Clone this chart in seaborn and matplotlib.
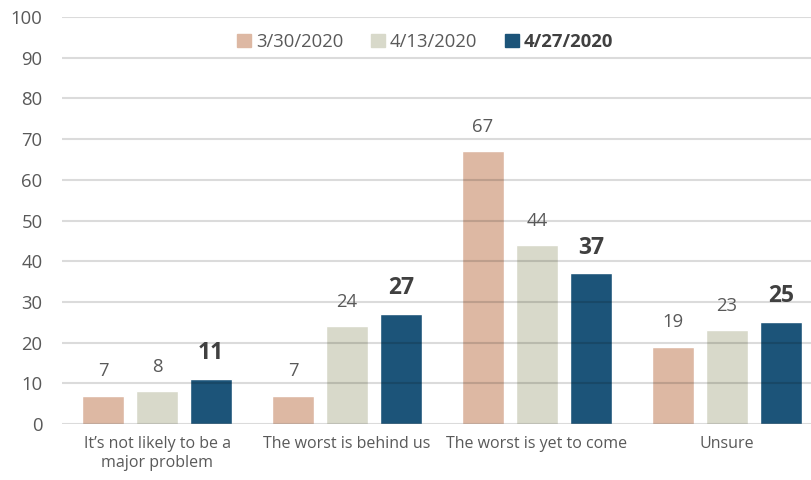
import pandas as pd
import matplotlib.pyplot as plt
import matplotlib.patches as mpatches
import seaborn as sns

# dati
categories = ["It’s not likely to be a\nmajor problem", "The worst is behind us",
              "The worst is yet to come", "Unsure"]
dates = ["3/30/2020", "4/13/2020", "4/27/2020"]
vals_0330 = [7, 7, 67, 19]
vals_0413 = [8, 24, 44, 23]
vals_0427 = [11, 27, 37, 25]
colors = ["#DDB8A3", "#D8D9CA", "#1C5479"]

df = pd.DataFrame({
    "category": categories * 3,
    "date": [d for d in dates for _ in categories],
    "value": vals_0330 + vals_0413 + vals_0427,
})

sns.set_style("white")
plt.rcParams["font.family"] = ["Open Sans", "DejaVu Sans"]
grey = "#595959"

fig = plt.figure(figsize=(8.11, 4.8), dpi=100)
ax = fig.add_axes([62 / 811, 56 / 480, 760 / 811, 407 / 480])

sns.barplot(data=df, x="category", y="value", hue="date", hue_order=dates,
            palette=colors, width=0.853, gap=0.22, saturation=1, legend=False, ax=ax)

# etichette sopra le barre
for i, cont in enumerate(ax.containers):
    if i == 2:
        ax.bar_label(cont, fmt="%d", padding=10, fontsize=16.5, fontweight="bold", color="#404040")
    else:
        ax.bar_label(cont, fmt="%d", padding=11, fontsize=13.3, color=grey)

ax.set_ylim(0, 100)
ax.set_yticks(range(0, 101, 10))
ax.set_xlim(-0.5, 3.5)
ax.set_xlabel("")
ax.set_ylabel("")
ax.tick_params(axis="y", labelsize=13.3, colors=grey, length=0, pad=14)
ax.tick_params(axis="x", labelsize=11.5, colors=grey, length=0, pad=9)
ax.grid(axis="y", color="black", alpha=0.14, linewidth=1.5, zorder=5)
ax.set_axisbelow(False)
sns.despine(ax=ax, left=True, bottom=True, top=True, right=True)

# legenda
handles = [mpatches.Patch(color=c, label=d) for c, d in zip(colors, dates)]
leg = fig.legend(handles=handles, loc="center", bbox_to_anchor=(425 / 811, 1 - 42 / 480),
                 ncol=3, frameon=False, fontsize=13.3, handlelength=0.75, handleheight=0.75,
                 handletextpad=0.25, columnspacing=1.5)
for t in leg.get_texts():
    t.set_color(grey)
leg.get_texts()[2].set_fontweight("bold")
leg.get_texts()[2].set_color("#404040")

plt.savefig("out.png", dpi=100)
